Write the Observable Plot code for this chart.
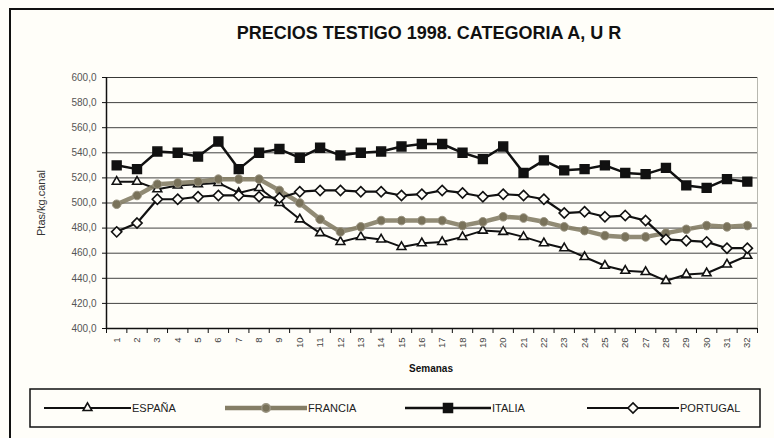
<!DOCTYPE html>
<html>
<head>
<meta charset="utf-8">
<script src="https://cdn.jsdelivr.net/npm/d3@7"></script>
<script src="https://cdn.jsdelivr.net/npm/@observablehq/plot@0.6"></script>
<style>
html, body { margin: 0; padding: 0; background: #fffef9; }
#chart { width: 774px; height: 438px; overflow: hidden; }
</style>
</head>
<body>
<div id="chart"></div>
<script>
const weeks = [1,2,3,4,5,6,7,8,9,10,11,12,13,14,15,16,17,18,19,20,21,22,23,24,25,26,27,28,29,30,31,32];
const espana   = [517,517,511,514,515,516,508,512,500,487,476,469,473,471,465,468,469,473,478,477,473,468,464,457,450,446,445,438,443,444,451,458];
const francia  = [499,506,515,516,517,519,519,519,510,500,487,477,481,486,486,486,486,482,485,489,488,485,481,478,474,473,473,476,479,482,481,482];
const italia   = [530,527,541,540,537,549,527,540,543,536,544,538,540,541,545,547,547,540,535,545,524,534,526,527,530,524,523,528,514,512,519,517];
const portugal = [477,484,503,503,505,506,506,505,504,509,510,510,509,509,506,507,510,508,505,507,506,503,492,493,489,490,486,471,470,469,464,464];
const yTicks = [400,420,440,460,480,500,520,540,560,580,600];
const seriesNames = ["ESPAÑA","FRANCIA","ITALIA","PORTUGAL"];
const title = "PRECIOS TESTIGO 1998. CATEGORIA A, U R";
const yLabel = "Ptas/kg.canal";
const xLabel = "Semanas";

const boundaries = weeks.map(w => w - 0.5).concat([weeks[weeks.length - 1] + 0.5]);
const fmt = d => d3.format(".1f")(d).replace(".", ",");
const xy = {x: (d, i) => weeks[i], y: d => d};

const FR = "#857e66";
const font = "'Liberation Sans', Arial, sans-serif";

const plot = Plot.plot({
  width: 774,
  height: 438,
  marginLeft: 106,
  marginRight: 17,
  marginTop: 77,
  marginBottom: 110,
  x: {type: "linear", domain: [0.5, 32.5]},
  y: {domain: [400, 600]},
  style: {background: "#fffef9", fontFamily: font, color: "#333"},
  marks: [
    Plot.frame({stroke: "#b8b8b0", strokeWidth: 1}),
    Plot.gridY(yTicks, {stroke: "#222", strokeOpacity: 0.85, strokeWidth: 1}),
    Plot.axisY({ticks: yTicks, tickFormat: fmt, tickSize: 4, tickPadding: 6, fontSize: 10, label: null, stroke: "#111", fill: "#555"}),
    Plot.axisX({ticks: boundaries, tickFormat: () => "", tickSize: 5, label: null, stroke: "#111"}),
    Plot.axisX({ticks: weeks, tickSize: 0, tickPadding: 9, tickRotate: -90, fontSize: 9.5, label: null, fill: "#444", tickFormat: d => String(d)}),
    Plot.ruleX([0.5], {stroke: "#111", strokeWidth: 1.5}),
    Plot.ruleY([400], {stroke: "#111", strokeWidth: 1.5}),
    // ESPAÑA
    Plot.line(espana, {...xy, stroke: "#111", strokeWidth: 2}),
    Plot.dot(espana, {...xy, symbol: "triangle2", r: 4.2, stroke: "#111", strokeWidth: 1.6, fill: "#fffef9"}),
    // FRANCIA
    Plot.line(francia, {...xy, stroke: FR, strokeWidth: 4.5, strokeOpacity: 0.9}),
    Plot.dot(francia, {...xy, symbol: "circle", r: 4.3, fill: "#79725a", stroke: "#9a9482", strokeWidth: 1}),
    // ITALIA
    Plot.line(italia, {...xy, stroke: "#111", strokeWidth: 2.5}),
    Plot.dot(italia, {...xy, symbol: "square", r: 5, fill: "#111", stroke: "#111"}),
    // PORTUGAL
    Plot.line(portugal, {...xy, stroke: "#111", strokeWidth: 2.2}),
    Plot.dot(portugal, {...xy, symbol: "diamond2", r: 4.6, stroke: "#111", strokeWidth: 1.6, fill: "#fffef9"})
  ]
});

document.getElementById("chart").appendChild(plot);
const svg = d3.select(plot);

// outer frame
svg.append("path").attr("d", "M10,440 L10,9 L776,9").attr("fill", "none").attr("stroke", "#111").attr("stroke-width", 2);

// title
svg.append("text").attr("x", 429).attr("y", 39).attr("text-anchor", "middle")
  .attr("font-family", font).attr("font-weight", "bold").attr("font-size", 18).attr("fill", "#111").text(title);

// y label
svg.append("text").attr("transform", "translate(45,203) rotate(-90)").attr("text-anchor", "middle")
  .attr("font-family", font).attr("font-size", 11).attr("fill", "#333").text(yLabel);

// x label
svg.append("text").attr("x", 431).attr("y", 372).attr("text-anchor", "middle")
  .attr("font-family", font).attr("font-weight", "bold").attr("font-size", 10).attr("fill", "#111").text(xLabel);

// legend
const lg = svg.append("g");
lg.append("rect").attr("x", 30).attr("y", 389).attr("width", 730).attr("height", 38)
  .attr("fill", "none").attr("stroke", "#111").attr("stroke-width", 1.5);
const items = [
  {name: seriesNames[0], x1: 44, x2: 131, sym: d3.symbolTriangle2, size: 55, fill: "#fffef9", stroke: "#111", lw: 2, lc: "#111"},
  {name: seriesNames[1], x1: 225, x2: 307, sym: d3.symbolCircle, size: 58, fill: "#79725a", stroke: "#9a9482", lw: 4.5, lc: FR},
  {name: seriesNames[2], x1: 405, x2: 491, sym: d3.symbolSquare, size: 80, fill: "#111", stroke: "#111", lw: 2.5, lc: "#111"},
  {name: seriesNames[3], x1: 587, x2: 679, sym: d3.symbolDiamond2, size: 66, fill: "#fffef9", stroke: "#111", lw: 2.2, lc: "#111"}
];
const ly = 408;
items.forEach(it => {
  lg.append("line").attr("x1", it.x1).attr("x2", it.x2).attr("y1", ly).attr("y2", ly)
    .attr("stroke", it.lc).attr("stroke-width", it.lw);
  lg.append("path").attr("d", d3.symbol(it.sym, it.size)()).attr("transform", `translate(${(it.x1 + it.x2) / 2},${ly})`)
    .attr("fill", it.fill).attr("stroke", it.stroke).attr("stroke-width", 1.6);
  lg.append("text").attr("x", it.x2 + 1).attr("y", ly + 4).attr("text-anchor", "start")
    .attr("font-family", font).attr("font-size", 11).attr("fill", "#222").text(it.name);
});
</script>
</body>
</html>
